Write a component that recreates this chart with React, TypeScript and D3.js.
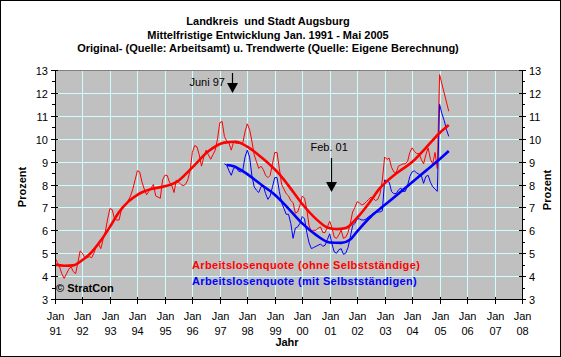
import React from "react";
import * as d3 from "d3";

const W = 561;
const H = 357;

const titleLines = [
  "Landkreis  und Stadt Augsburg",
  "Mittelfristige Entwicklung Jan. 1991 - Mai 2005",
  "Original- (Quelle: Arbeitsamt) u. Trendwerte (Quelle: Eigene Berechnung)",
];

const yearLabels = ["91", "92", "93", "94", "95", "96", "97", "98", "99", "00", "01", "02", "03", "04", "05", "06", "07", "08"];
const yTicks = [3, 4, 5, 6, 7, 8, 9, 10, 11, 12, 13];

// monthly values, Jan 1991 (index 0) .. May 2005 (index 172)
const redOriginal = [
  4.8, 4.6, 4.4, 4.1, 3.9, 4.1, 4.3, 4.4, 4.2, 4.1, 4.6, 5.1,
  5.0, 4.8, 4.8, 4.85, 4.8, 5.0, 5.3, 5.4, 5.2, 5.6, 5.95, 6.5,
  6.95, 6.9, 6.5, 6.45, 6.45, 6.9, 7.0, 7.1, 7.3, 7.5, 7.8, 8.2,
  8.6, 8.55, 8.1, 7.8, 7.55, 7.7, 7.85, 8.0, 7.5, 7.45, 7.4, 8.2,
  8.4, 8.4, 8.1, 7.95, 7.65, 8.2, 8.1, 8.0, 7.95, 8.0, 8.2, 8.6,
  9.4, 9.7, 9.65, 9.3, 8.8, 9.2, 9.5, 9.3, 9.1, 9.3, 9.5, 10.0,
  10.7, 10.75, 10.1, 9.9, 9.8, 9.5, 9.85, 9.8, 9.8, 9.8, 9.8, 10.3,
  10.65, 10.4, 9.9, 9.3, 9.0, 8.7, 8.8, 8.65, 8.4, 8.3, 8.4, 8.9,
  9.4, 9.4, 8.7, 8.0, 7.8, 7.6, 7.5, 7.3, 7.2, 6.75, 6.8, 7.1,
  7.5, 7.4, 6.9, 6.2, 5.95, 6.0, 6.0, 6.1, 6.15, 5.9, 5.9, 6.15,
  6.4, 6.1, 5.7, 5.65, 5.8, 6.0, 5.65, 5.7, 5.9, 6.3, 6.8, 7.0,
  7.25, 7.2, 7.1, 7.15, 7.25, 7.35, 7.45, 7.4, 7.3, 7.35, 7.6, 8.2,
  9.2, 9.1, 9.15, 8.75, 8.55, 8.5, 8.8, 8.85, 8.9, 8.9, 9.0, 9.4,
  9.6, 9.45, 9.35, 9.35, 9.1, 8.9, 9.3, 9.6, 9.1, 8.9, 9.4, 8.7,
  12.8, 12.4, 12.0, 11.6, 11.2,
];

const blueStartMonth = 74; // Mar 1997
const blueOriginal = [
  8.9, 8.85, 8.6, 8.4, 8.7, 8.75, 8.6, 8.55, 8.6, 9.2,
  9.5, 9.2, 8.4, 7.9, 7.75, 7.65, 7.9, 7.95, 7.6, 7.35, 7.5, 7.9,
  8.3, 8.3, 7.7, 7.2, 6.95, 6.7, 6.7, 6.3, 5.65, 6.1, 6.15, 6.3,
  6.6, 6.5, 5.9, 5.45, 5.2, 5.25, 5.3, 5.35, 5.4, 5.3, 5.35, 5.6,
  5.85, 5.4, 5.05, 5.0, 5.15, 5.2, 4.95, 5.0, 5.25, 5.7, 6.2, 6.3,
  6.5, 6.5, 6.45, 6.45, 6.5, 6.6, 6.65, 6.75, 6.8, 6.8, 6.8, 6.85,
  8.2, 8.15, 8.1, 7.7, 7.6, 7.6, 7.75, 7.85, 7.7, 7.7, 7.95, 8.35,
  8.55, 8.6, 8.5, 8.45, 8.4, 8.05, 8.35, 8.4, 8.1, 7.9, 7.8, 7.7,
  11.5, 11.1, 10.8, 10.4, 10.1,
];

const redTrendMonths = [0, 4, 8, 12, 16, 20, 24, 28, 32, 36, 42, 48, 53, 60, 67, 74, 79, 84, 90, 98, 102, 108, 114, 119, 123, 127, 132, 138, 142, 144, 150, 156, 162, 168, 172];
const redTrendValues = [4.5, 4.45, 4.47, 4.7, 5.05, 5.55, 6.15, 6.8, 7.25, 7.55, 7.8, 7.92, 8.1, 8.75, 9.45, 9.83, 9.87, 9.65, 9.2, 8.45, 7.95, 7.15, 6.5, 6.12, 6.05, 6.1, 6.55, 7.3, 7.85, 8.05, 8.55, 8.98, 9.6, 10.25, 10.6];

const blueTrendMonths = [75, 78, 84, 90, 96, 102, 108, 114, 120, 125, 129, 132, 138, 144, 150, 156, 162, 168, 172];
const blueTrendValues = [8.85, 8.8, 8.45, 8.0, 7.55, 6.95, 6.3, 5.8, 5.47, 5.45, 5.6, 5.95, 6.6, 7.1, 7.6, 8.1, 8.6, 9.1, 9.46];

const annotations = [
  { label: "Juni 97", month: 77.5, textX: -43, textY: 86, y1: 73, y2: 93 },
  { label: "Feb. 01", month: 120.5, textX: -21, textY: 151, y1: 158, y2: 192 },
];

const legendItems = [
  { label: "Arbeitslosenquote (ohne Selbstständige)", color: "#ff0000" },
  { label: "Arbeitslosenquote (mit Selbstständigen)", color: "#0000ff" },
];

const FONT = "'Liberation Sans', Arial, sans-serif";

export default function App() {
  const left = 55, right = 522, top = 70, bottom = 299;
  const x = d3.scaleLinear().domain([0, 204]).range([left, right]);
  const y = d3.scaleLinear().domain([3, 13]).range([bottom, top]);

  const thin = d3.line<[number, number]>().x((d) => x(d[0])).y((d) => y(d[1]));
  const smooth = d3
    .line<[number, number]>()
    .x((d) => x(d[0]))
    .y((d) => y(d[1]))
    .curve(d3.curveMonotoneX);

  const redPts: [number, number][] = redOriginal.map((v, i) => [i, v]);
  const bluePts: [number, number][] = blueOriginal.map((v, i) => [blueStartMonth + i, v]);
  const redTrend: [number, number][] = redTrendMonths.map((m, i) => [m, redTrendValues[i]]);
  const blueTrend: [number, number][] = blueTrendMonths.map((m, i) => [m, blueTrendValues[i]]);

  const yearMonths = yearLabels.map((_, i) => i * 12);
  const minorTicks = yTicks.slice(0, -1).map((t) => t + 0.5);

  return (
    <svg width={W} height={H} style={{ position: "absolute", left: 0, top: 0, display: "block" }} fontFamily={FONT}>
      <rect x={0.5} y={0.5} width={W - 1} height={H - 1} fill="#ffffff" stroke="#000000" />
      {titleLines.map((t, i) => (
        <text key={i} x={268} y={25 + i * 13.6} textAnchor="middle" fontSize={11} fontWeight="bold" style={{ whiteSpace: "pre" }}>
          {t}
        </text>
      ))}

      <defs>
        <clipPath id="plotclip">
          <rect x={left} y={top} width={right - left} height={bottom - top} />
        </clipPath>
      </defs>

      <rect x={left} y={top} width={right - left} height={bottom - top} fill="#c0c0c0" />
      {yTicks.slice(1, -1).map((t) => (
        <line key={"hg" + t} x1={left} x2={right} y1={Math.round(y(t)) + 0.5} y2={Math.round(y(t)) + 0.5} stroke="#ccffff" />
      ))}
      {yearMonths.slice(1, -1).map((m) => (
        <line key={"vg" + m} x1={Math.round(x(m)) + 0.5} x2={Math.round(x(m)) + 0.5} y1={top} y2={bottom} stroke="#ccffff" />
      ))}
      <line x1={left} x2={right} y1={top + 0.5} y2={top + 0.5} stroke="#808080" />

      <g clipPath="url(#plotclip)" fill="none" strokeLinejoin="round">
        <path d={thin(redPts) || ""} stroke="#ff0000" strokeWidth={1} />
        <path d={thin(bluePts) || ""} stroke="#0000ff" strokeWidth={1} />
        <path d={smooth(redTrend) || ""} stroke="#ff0000" strokeWidth={2.6} />
        <path d={smooth(blueTrend) || ""} stroke="#0000ff" strokeWidth={2.6} />
      </g>

      {annotations.map((a, i) => {
        const ax = Math.round(x(a.month)) + 0.5;
        return (
          <g key={i}>
            <text x={ax + a.textX} y={a.textY} fontSize={11} textAnchor="start">
              {a.label}
            </text>
            <line x1={ax} x2={ax} y1={a.y1} y2={a.y2 - 8} stroke="#000" strokeWidth={1.2} />
            <path d={`M${ax - 5.5},${a.y2 - 10} L${ax + 5.5},${a.y2 - 10} L${ax},${a.y2} Z`} fill="#000" />
          </g>
        );
      })}

      {legendItems.map((l, i) => (
        <text key={i} x={192} y={269 + i * 15.5} fontSize={11} fontWeight="bold" fill={l.color} letterSpacing={0.35}>
          {l.label}
        </text>
      ))}
      <text x={56} y={292} fontSize={11} fontWeight="bold" fill="#000">
        © StratCon
      </text>

      {/* axes */}
      <line x1={left + 0.5} x2={left + 0.5} y1={top} y2={bottom + 1} stroke="#000" />
      <line x1={right + 0.5} x2={right + 0.5} y1={top} y2={bottom + 1} stroke="#000" />
      <line x1={left} x2={right + 1} y1={bottom + 0.5} y2={bottom + 0.5} stroke="#000" />

      {yTicks.map((t) => {
        const yy = Math.round(y(t)) + 0.5;
        return (
          <g key={"yt" + t}>
            <line x1={left - 4} x2={left + 3} y1={yy} y2={yy} stroke="#000" />
            <text x={left - 7} y={yy + 4} fontSize={11} textAnchor="end">
              {t}
            </text>
            <line x1={right - 3} x2={right + 4} y1={yy} y2={yy} stroke="#000" />
            <text x={right + 7} y={yy + 4} fontSize={11} textAnchor="start">
              {t}
            </text>
          </g>
        );
      })}
      {minorTicks.map((t) => {
        const yy = Math.round(y(t)) + 0.5;
        return (
          <g key={"mt" + t}>
            <line x1={left - 3} x2={left} y1={yy} y2={yy} stroke="#000" />
            <line x1={right} x2={right + 3} y1={yy} y2={yy} stroke="#000" />
          </g>
        );
      })}

      {yearMonths.map((m, i) => {
        const xx = Math.round(x(m)) + 0.5;
        return (
          <g key={"xt" + m}>
            <line x1={xx} x2={xx} y1={bottom - 2} y2={bottom + 5} stroke="#000" />
            <text x={xx} y={320} fontSize={11} textAnchor="middle">
              Jan
            </text>
            <text x={xx} y={335} fontSize={11} textAnchor="middle">
              {yearLabels[i]}
            </text>
          </g>
        );
      })}
      <text x={287} y={346} fontSize={11} fontWeight="bold" textAnchor="middle">
        Jahr
      </text>
      <text transform="translate(26,187) rotate(-90)" fontSize={11} fontWeight="bold" textAnchor="middle">
        Prozent
      </text>
      <text transform="translate(551,190) rotate(-90)" fontSize={11} fontWeight="bold" textAnchor="middle">
        Prozent
      </text>
    </svg>
  );
}
